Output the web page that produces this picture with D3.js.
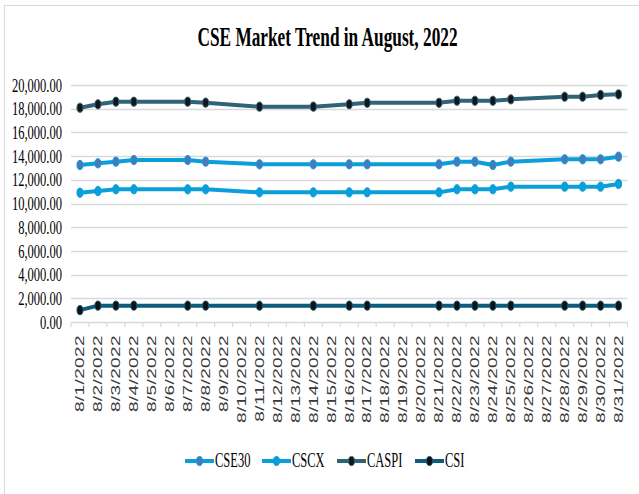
<!DOCTYPE html>
<html>
<head>
<meta charset="utf-8">
<script src="https://cdn.jsdelivr.net/npm/d3@7"></script>
<style>
  html, body { margin: 0; padding: 0; background: #fff; }
  svg { display: block; }
</style>
</head>
<body>
<div id="chart"></div>
<script>
const width = 639;
const height = 494;

// categories on the x axis (every day of the month)
const categories = [
  "8/1/2022", "8/2/2022", "8/3/2022", "8/4/2022", "8/5/2022", "8/6/2022", "8/7/2022", "8/8/2022",
  "8/9/2022", "8/10/2022", "8/11/2022", "8/12/2022", "8/13/2022", "8/14/2022", "8/15/2022", "8/16/2022",
  "8/17/2022", "8/18/2022", "8/19/2022", "8/20/2022", "8/21/2022", "8/22/2022", "8/23/2022", "8/24/2022",
  "8/25/2022", "8/26/2022", "8/27/2022", "8/28/2022", "8/29/2022", "8/30/2022", "8/31/2022"
];

// days that have values
const tradingDays = [
  "8/1/2022", "8/2/2022", "8/3/2022", "8/4/2022", "8/7/2022", "8/8/2022", "8/11/2022", "8/14/2022",
  "8/16/2022", "8/17/2022", "8/21/2022", "8/22/2022", "8/23/2022", "8/24/2022", "8/25/2022",
  "8/28/2022", "8/29/2022", "8/30/2022", "8/31/2022"
];

const cse30 = [13250, 13390, 13530, 13670, 13670, 13530, 13310, 13310, 13310, 13310, 13310, 13530, 13530, 13250, 13530, 13730, 13730, 13730, 13950];
const cscx  = [10910, 11050, 11200, 11200, 11200, 11200, 10940, 10940, 10940, 10940, 10940, 11200, 11200, 11200, 11420, 11420, 11420, 11420, 11650];
const caspi = [18080, 18370, 18590, 18590, 18590, 18510, 18170, 18170, 18370, 18500, 18500, 18670, 18670, 18670, 18790, 19010, 19010, 19160, 19210];
const csi   = [1000, 1380, 1380, 1380, 1380, 1380, 1380, 1380, 1380, 1380, 1380, 1380, 1380, 1380, 1380, 1380, 1380, 1380, 1380];

const yTicks = [0, 2000, 4000, 6000, 8000, 10000, 12000, 14000, 16000, 18000, 20000];

const seriesNames = ["CSE30", "CSCX", "CASPI", "CSI"];

const series = [
  { name: "CSE30", values: cse30, line: "#0A9EDA", fill: "#4C78B8", stroke: "#0A9EDA" },
  { name: "CSCX",  values: cscx,  line: "#0A9EDA", fill: "#0A9EDA", stroke: "#0A9EDA" },
  { name: "CASPI", values: caspi, line: "#2F6478", fill: "#161616", stroke: "#2F6478" },
  { name: "CSI",   values: csi,   line: "#0E5C7C", fill: "#111111", stroke: "#0E5C7C" }
];

const squeeze = 0.64; // the text in the chart is narrow

const svg = d3.select("#chart")
  .append("svg")
  .attr("width", width)
  .attr("height", height);

// chart frame
svg.append("rect")
  .attr("x", 4.5).attr("y", 5.5)
  .attr("width", 660).attr("height", 520)
  .attr("fill", "#fff")
  .attr("stroke", "#d9d9d9");

const x = d3.scaleBand()
  .domain(categories)
  .range([71, 627.5])
  .padding(0);

const y = d3.scaleLinear()
  .domain([0, 20000])
  .range([322, 85]);

// title
svg.append("text")
  .attr("transform", `translate(327.5,46) scale(${squeeze},1)`)
  .attr("text-anchor", "middle")
  .style("font-family", "'Liberation Serif', serif")
  .style("font-weight", "bold")
  .style("font-size", "27px")
  .attr("fill", "#000")
  .text("CSE Market Trend in August, 2022");

// gridlines
svg.append("g")
  .selectAll("line")
  .data(yTicks.filter(d => d > 0))
  .enter()
  .append("line")
  .attr("x1", 71).attr("x2", 627.5)
  .attr("y1", d => Math.round(y(d)) + 0.5)
  .attr("y2", d => Math.round(y(d)) + 0.5)
  .attr("stroke", "#d9d9d9")
  .attr("stroke-width", 1.5);

// y labels
svg.append("g")
  .selectAll("text")
  .data(yTicks)
  .enter()
  .append("text")
  .attr("transform", d => `translate(62,${y(d)}) scale(0.66,1)`)
  .attr("text-anchor", "end")
  .attr("dy", "0.35em")
  .style("font-family", "'Liberation Serif', serif")
  .style("font-size", "19px")
  .attr("fill", "#000")
  .text(d3.format(",.2f"));

// x axis
const xAxis = svg.append("g");
xAxis.append("line")
  .attr("x1", 71).attr("x2", 627.5)
  .attr("y1", 322.5).attr("y2", 322.5)
  .attr("stroke", "#d9d9d9")
  .attr("stroke-width", 1.5);

xAxis.selectAll(".tick")
  .data(categories.concat(["end"]))
  .enter()
  .append("line")
  .attr("class", "tick")
  .attr("x1", (d, i) => 71 + i * x.bandwidth())
  .attr("x2", (d, i) => 71 + i * x.bandwidth())
  .attr("y1", 322.5).attr("y2", 327)
  .attr("stroke", "#d9d9d9")
  .attr("stroke-width", 1.2);

xAxis.selectAll(".xlabel")
  .data(categories)
  .enter()
  .append("text")
  .attr("class", "xlabel")
  .attr("transform", d => `translate(${x(d) + x.bandwidth() / 2},335) rotate(-90) scale(1,${squeeze})`)
  .attr("text-anchor", "end")
  .attr("dy", "0.35em")
  .style("font-family", "'Liberation Sans', Arial, sans-serif")
  .style("font-size", "19px")
  .style("letter-spacing", "0.4px")
  .attr("fill", "#3a3a3a")
  .text(d => d);

// lines + markers
const line = d3.line()
  .x(d => x(d.day) + x.bandwidth() / 2)
  .y(d => y(d.value));

series.forEach(s => {
  const pts = tradingDays.map((day, i) => ({ day: day, value: s.values[i] }));
  const g = svg.append("g");
  g.append("path")
    .datum(pts)
    .attr("fill", "none")
    .attr("stroke", s.line)
    .attr("stroke-width", 4)
    .attr("stroke-linejoin", "round")
    .attr("d", line);
  g.selectAll("ellipse")
    .data(pts)
    .enter()
    .append("ellipse")
    .attr("cx", d => x(d.day) + x.bandwidth() / 2)
    .attr("cy", d => y(d.value))
    .attr("rx", 3)
    .attr("ry", 4.6)
    .attr("fill", s.fill)
    .attr("stroke", s.stroke)
    .attr("stroke-width", 1);
});

// legend
const legendX = [185, 262, 337, 415];
const legend = svg.append("g");
series.forEach((s, i) => {
  const lx = legendX[i];
  legend.append("line")
    .attr("x1", lx).attr("x2", lx + 29)
    .attr("y1", 461).attr("y2", 461)
    .attr("stroke", s.line)
    .attr("stroke-width", 4);
  legend.append("ellipse")
    .attr("cx", lx + 14.5).attr("cy", 461)
    .attr("rx", 3).attr("ry", 4.6)
    .attr("fill", s.fill)
    .attr("stroke", s.stroke);
  legend.append("text")
    .attr("transform", `translate(${lx + 30},467) scale(0.625,1)`)
    .style("font-family", "'Liberation Serif', serif")
    .style("font-size", "20px")
    .attr("fill", "#000")
    .text(seriesNames[i]);
});
</script>
</body>
</html>
